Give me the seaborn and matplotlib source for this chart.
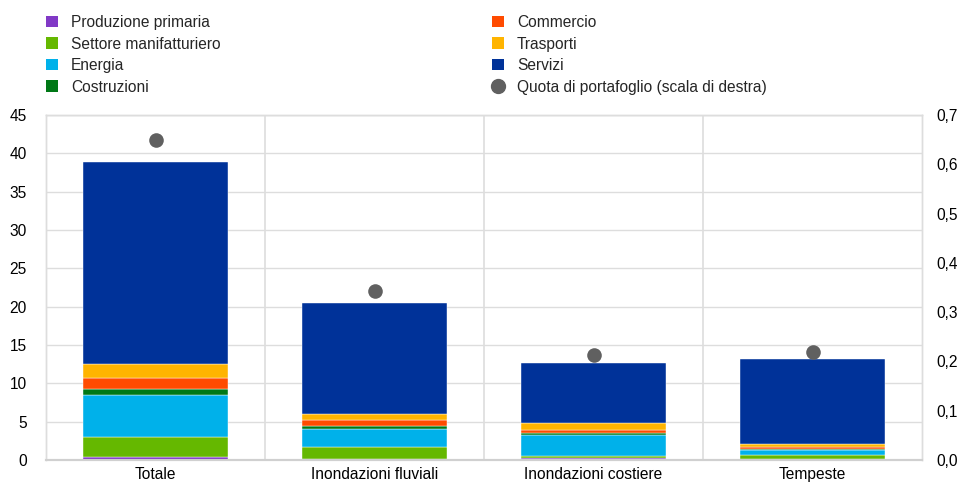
import numpy as np
import pandas as pd
import matplotlib
matplotlib.use("Agg")
import matplotlib.pyplot as plt
from matplotlib.patches import Patch
from matplotlib.lines import Line2D
import seaborn as sns

categories = ["Totale", "Inondazioni fluviali", "Inondazioni costiere", "Tempeste"]
sectors = ["Produzione primaria", "Settore manifatturiero", "Energia", "Costruzioni",
           "Commercio", "Trasporti", "Servizi"]
colors = ["#8139C6", "#65B800", "#00B1EA", "#007816", "#FF4B00", "#FFB400", "#003299"]

primaria = [0.45, 0.1, 0.2, 0.1]
manifatturiero = [2.55, 1.6, 0.3, 0.55]
energia = [5.5, 2.35, 2.75, 0.65]
costruzioni = [0.8, 0.35, 0.3, 0.1]
commercio = [1.35, 0.8, 0.35, 0.25]
trasporti = [1.9, 0.75, 0.9, 0.4]
servizi = [26.3, 14.5, 7.9, 11.15]
quota = [0.65, 0.342, 0.214, 0.22]

values = [primaria, manifatturiero, energia, costruzioni, commercio, trasporti, servizi]

sns.set_style("white")
plt.rcParams["font.family"] = ["Liberation Sans", "DejaVu Sans"]
fs = 11.2
plt.rcParams["font.size"] = fs

fig = plt.figure(figsize=(9.6, 4.88), dpi=100)
ax = fig.add_axes([46 / 960, 28 / 488, 876 / 960, 345 / 488])

# stacked bars, one layer per sector
bottom = np.zeros(len(categories))
for name, vals, col in zip(sectors, values, colors):
    df = pd.DataFrame({"cat": categories, "val": vals})
    sns.barplot(data=df, x="cat", y="val", color=col, bottom=bottom, width=0.66,
                ax=ax, saturation=1, edgecolor="white", linewidth=0.3)
    bottom = bottom + np.array(vals)

ax2 = ax.twinx()
dots = pd.DataFrame({"cat": categories, "quota": quota})
sns.stripplot(data=dots, x="cat", y="quota", jitter=False, color="#606060", size=10.5,
              ax=ax2, zorder=5)

ax.set_xlim(-0.5, 3.5)
ax.set_ylim(0, 45)
ax2.set_ylim(0, 0.7)
ax.set_yticks(np.arange(0, 46, 5))
ax2.set_yticks(np.arange(0, 0.71, 0.1))
ax2.set_yticklabels([f"{v:.1f}".replace(".", ",") for v in np.arange(0, 0.71, 0.1)])
ax.set_xlabel("")
ax.set_ylabel("")
ax2.set_xlabel("")
ax2.set_ylabel("")

ax.yaxis.grid(True, color="#DDDDDD", linewidth=1)
ax.set_axisbelow(True)
for x in [0.5, 1.5, 2.5]:
    ax.axvline(x, color="#DDDDDD", linewidth=1.2, zorder=0)

for a in (ax, ax2):
    a.tick_params(axis="both", length=0, labelsize=fs, colors="#000000")
    for s in a.spines.values():
        s.set_color("#DDDDDD")
        s.set_linewidth(1)
    a.spines["bottom"].set_color("#D0D0D0")
    a.spines["bottom"].set_linewidth(1.5)
ax.tick_params(axis="y", pad=14)
ax2.tick_params(axis="y", pad=10)
ax.tick_params(axis="x", pad=5)

h1 = [Patch(facecolor=c, edgecolor="none") for c in colors[:4]]
h2 = [Patch(facecolor=c, edgecolor="none") for c in colors[4:]]
h2.append(Line2D([], [], marker="o", linestyle="none", markerfacecolor="#606060",
                 markeredgecolor="#606060", markersize=10))
common = dict(loc="upper left", frameon=False, borderpad=0, borderaxespad=0,
              handlelength=0.75, handleheight=0.75, handletextpad=0.85,
              labelspacing=0.42, fontsize=fs)
fig.legend(h1, sectors[:4], bbox_to_anchor=(46 / 960, 1 - 15 / 488), **common)
fig.legend(h2, sectors[4:] + ["Quota di portafoglio (scala di destra)"],
           bbox_to_anchor=(492 / 960, 1 - 15 / 488), **common)

fig.savefig("out.png", dpi=100)
